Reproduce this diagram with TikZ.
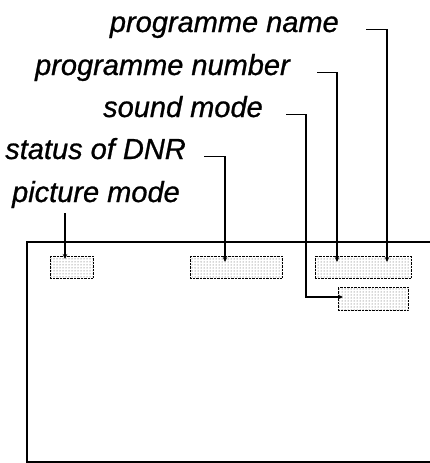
\documentclass[tikz,border=0pt]{standalone}
\usepackage{fontspec}
\setmainfont{Liberation Sans}[ItalicFeatures={FakeBold=0.8}]
\usetikzlibrary{patterns,arrows.meta}

\begin{document}
\begin{tikzpicture}[x=1pt,y=-1pt,
	osdlabel/.style={anchor=base east, inner sep=0pt, font=\fontsize{29}{34}\selectfont\itshape},
	leader/.style={line width=1.4pt, -{Stealth[length=5pt,width=4.5pt]}},
	osd/.style={draw, densely dotted, pattern=dots, pattern color=black!70, inner sep=0pt},
	tvframe/.style={line width=2.4pt}]
	\useasboundingbox (0,0) rectangle (429,463);
	% labels
	\foreach \name/\x/\y/\txt in
	{
		pname/339/32/programme name,
		pnumber/290/75/programme number,
		smode/263/117/sound mode,
		dnr/186/159/status of DNR,
		pmode/180/202/picture mode
	}
	{
		\node[osdlabel] (\name) at (\x,\y) {\txt};
	}
	% on screen display
	\node[osd, minimum width=43pt, minimum height=22pt] (osdpm) at (71.5,267) {};
	\node[osd, minimum width=92pt, minimum height=22pt] (osddnr) at (236,267) {};
	\node[osd, minimum width=96pt, minimum height=22pt] (osdprog) at (363,267) {};
	\node[osd, minimum width=70pt, minimum height=23pt] (osdsound) at (373,298.5) {};
	\draw[tvframe] (440,242) -- (27,242) -- (27,462) -- (440,462);
	% leaders
	\coordinate (tppm) at (65,259);
	\coordinate (tpdnr) at (225,262);
	\coordinate (tpnumber) at (337,262);
	\coordinate (tpname) at (387,262);
	\coordinate (sndturn) at (306,297);
	\coordinate (tpsound) at (343,297);
	\foreach \lbl/\gap/\tip in {pname/27/tpname, pnumber/27/tpnumber, dnr/18/tpdnr}
		\draw[leader] ([xshift=\gap]\lbl.mid east) -| (\tip);
	\draw[leader] ([xshift=23]smode.mid east) -| (sndturn) -- (tpsound);
	\path ([yshift=-5pt]pmode.south) coordinate (pmbase);
	\draw[leader] (pmbase -| tppm) -- (tppm);
\end{tikzpicture}
\end{document}
